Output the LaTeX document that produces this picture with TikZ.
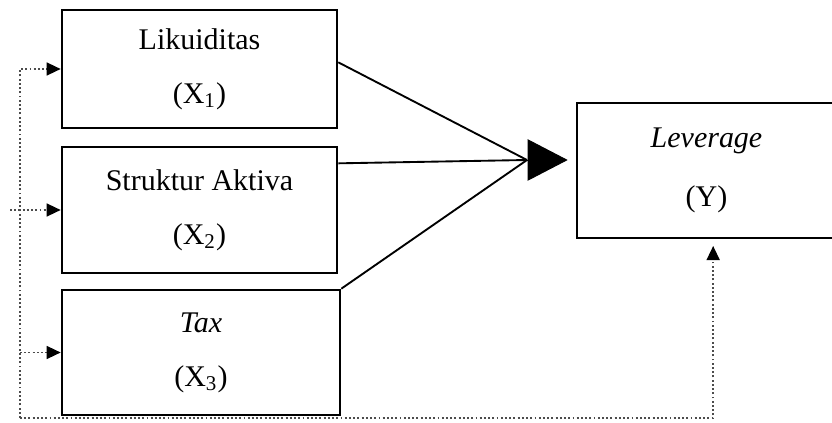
\documentclass[tikz,border=0pt]{standalone}
\usepackage{fontspec}
\setmainfont{Liberation Serif}
\usetikzlibrary{arrows.meta}
\begin{document}
\begin{tikzpicture}[x=0.015cm,y=-0.015cm,>={Triangle[length=6pt,width=5.5pt,color=black]},
	var/.style={draw,line width=1.1pt,align=center,inner sep=0pt,font=\fontsize{12.8}{15}\selectfont},
	feed/.style={densely dotted,gray!60!black,line width=0.8pt}]
	\useasboundingbox (0,0) rectangle (832,423);
		\node[var,minimum width=4.125cm,minimum height=1.77cm] (x1) at (199.5,69) {Likuiditas\\[8pt](X\textsubscript{1})};
		\node[var,minimum width=4.125cm,minimum height=1.89cm] (x2) at (199.5,210) {Struktur Aktiva\\[8pt](X\textsubscript{2})};
		\node[var,minimum width=4.17cm,minimum height=1.875cm] (x3) at (201,352.5) {\textit{Tax}\\[8pt](X\textsubscript{3})};
		\node[var,minimum width=3.885cm,minimum height=2.025cm] (y) at (706.5,170.5) {\textit{Leverage}\\[10pt](Y)};
		\coordinate (conv) at (527,160);
		\coordinate (rail) at (20,418);
		\draw[thick] ([yshift=0.1cm]x1.east) -- (conv);
		\draw[thick] ([yshift=0.7cm]x2.east) -- (conv);
		\draw[thick] (x3.north east) -- (conv);
		\draw[-{Triangle[length=0.6cm,width=0.62cm]},shorten >=0.12cm] (conv) -- (conv -| y.west);
		\draw[feed,->] (rail) |- (x1.west);
		\draw[feed,->] ([xshift=-0.15cm]rail |- x2.west) -- (x2.west);
		\draw[feed,->] (rail |- x3.west) -- (x3.west);
		\draw[feed,->,shorten >=0.1cm] (rail) -| ([xshift=0.1cm]y.south);
	\end{tikzpicture}
\end{document}
